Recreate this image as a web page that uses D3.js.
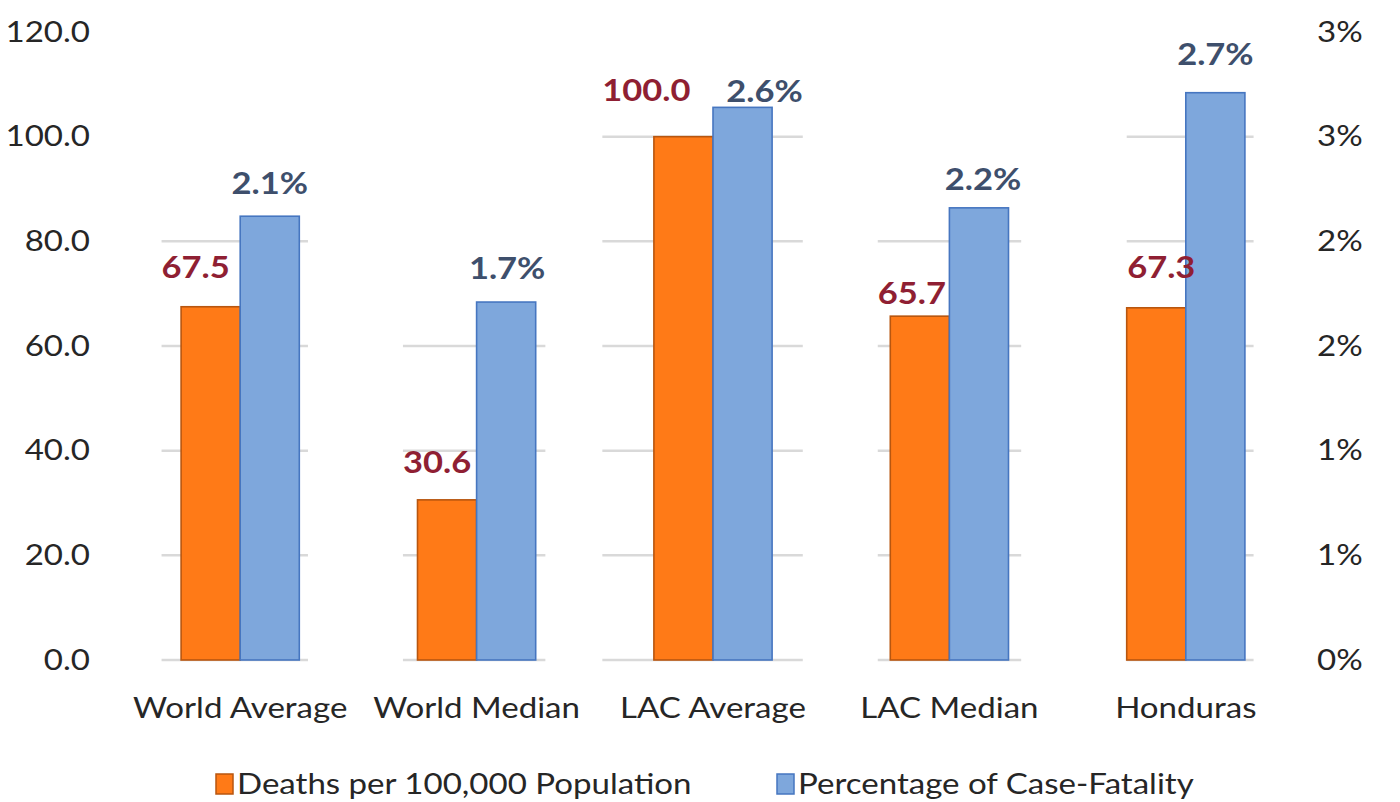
<!DOCTYPE html>
<html>
<head>
<meta charset="utf-8">
<script src="https://cdn.jsdelivr.net/npm/d3@7"></script>
<style>
  html, body { margin: 0; padding: 0; background: #ffffff; }
  svg { display: block; }
</style>
</head>
<body>
<svg id="chart" width="1400" height="802"></svg>
<script>
// ---- data ----
const categories = ["World Average", "World Median", "LAC Average", "LAC Median", "Honduras"];
const seriesNames = ["Deaths per 100,000 Population", "Percentage of Case-Fatality"];
const deathsPer100k = [67.5, 30.6, 100.0, 65.7, 67.3];
const caseFatalityPct = [2.12, 1.71, 2.64, 2.16, 2.71];
const leftTicks = [0, 20, 40, 60, 80, 100, 120];
const leftTickLabels = ["0.0", "20.0", "40.0", "60.0", "80.0", "100.0", "120.0"];
const rightTicks = [0, 0.5, 1.0, 1.5, 2.0, 2.5, 3.0];
const rightTickLabels = ["0%", "1%", "1%", "2%", "2%", "3%", "3%"];

// ---- layout ----
const plot = { left: 122, right: 1304, top: 32, bottom: 660 };
const FONT = "Lato, 'Open Sans', sans-serif";
const STRETCH = "scale(1.14,1)";       // slightly widened lettering
const STRETCH_BOLD = "scale(1.15,1)";
const colors = {
  orange: "#ff7a17", orangeStroke: "#b8560f",
  blue: "#7ea7dc", blueStroke: "#4676c0",
  orangeText: "#8f1f33", blueText: "#3e4f6c",
  grid: "#d9d9d9", text: "#262626"
};
// hand-placed data-label offsets [dx, dy] relative to the default spot above each bar
const deathLabelNudge = [[-15, -5], [-10, -3], [-37, -12], [-8, 11], [5, -6]];
const pctLabelNudge = [[0, 1], [1, 0], [22, 18], [4, 6], [0, -4]];

const svg = d3.select("#chart");

const x0 = d3.scaleBand().domain(categories)
  .range([plot.left, plot.right]).paddingInner(0.5).paddingOuter(0.25);
const x1 = d3.scaleBand().domain([0, 1]).range([0, x0.bandwidth()]);
const yLeft = d3.scaleLinear().domain([0, 120]).range([plot.bottom, plot.top]);
const yRight = d3.scaleLinear().domain([0, 3]).range([plot.bottom, plot.top]);

const gridLayer = svg.append("g").attr("class", "grid");
const barLayer = svg.append("g").attr("class", "bars");
const labelLayer = svg.append("g").attr("class", "labels");

// left axis
const leftAxis = d3.axisLeft(yLeft).tickValues(leftTicks)
  .tickFormat((d, i) => leftTickLabels[i]).tickSize(0).tickPadding(0);
const gL = svg.append("g").attr("transform", "translate(90,0)").call(leftAxis);
gL.select(".domain").remove();
gL.selectAll("text").attr("font-family", FONT).attr("font-size", 29)
  .attr("fill", colors.text).attr("transform", STRETCH);

// right axis
const rightAxis = d3.axisRight(yRight).tickValues(rightTicks)
  .tickFormat((d, i) => rightTickLabels[i]).tickSize(0).tickPadding(0);
const gR = svg.append("g").attr("transform", "translate(1317,0)").call(rightAxis);
gR.select(".domain").remove();
gR.selectAll("text").attr("font-family", FONT).attr("font-size", 29)
  .attr("fill", colors.text).attr("transform", STRETCH);

// category axis
const bottomAxis = d3.axisBottom(x0).tickSize(0).tickPadding(0);
const gB = svg.append("g").attr("transform", `translate(0,${plot.bottom + 35})`).call(bottomAxis);
gB.select(".domain").remove();
gB.selectAll("text").attr("font-family", FONT).attr("font-size", 29)
  .attr("fill", colors.text).attr("dy", "0.8em").attr("transform", STRETCH);

// bars
const rows = categories.map((c, i) => ({
  cat: c, i,
  vals: [
    { s: 0, v: deathsPer100k[i], y: yLeft(deathsPer100k[i]) },
    { s: 1, v: caseFatalityPct[i], y: yRight(caseFatalityPct[i]) }
  ]
}));

const groups = barLayer.selectAll("g.group").data(rows).join("g")
  .attr("class", "group")
  .attr("transform", d => `translate(${x0(d.cat)},0)`);

groups.selectAll("rect").data(d => d.vals).join("rect")
  .attr("x", d => x1(d.s))
  .attr("width", x1.bandwidth())
  .attr("y", d => d.y)
  .attr("height", d => plot.bottom - d.y)
  .attr("fill", d => d.s === 0 ? colors.orange : colors.blue)
  .attr("stroke", d => d.s === 0 ? colors.orangeStroke : colors.blueStroke)
  .attr("stroke-width", 1.6);

// data labels
const fmtDeaths = d3.format(".1f");
const fmtPct = v => d3.format(".1f")(v) + "%";
rows.forEach(r => {
  const bx = x0(r.cat);
  const labels = [];
  r.vals.forEach(d => {
    const nudge = d.s === 0 ? deathLabelNudge[r.i] : pctLabelNudge[r.i];
    const lx = bx + x1(d.s) + x1.bandwidth() / 2 + nudge[0];
    const ly = d.y - 34 + nudge[1];
    const t = labelLayer.append("text")
      .attr("transform", `translate(${lx},${ly}) ${STRETCH_BOLD}`)
      .attr("dy", "0.35em")
      .attr("text-anchor", "middle")
      .attr("font-family", FONT)
      .attr("font-weight", 700)
      .attr("font-size", 30)
      .attr("fill", d.s === 0 ? colors.orangeText : colors.blueText)
      .text(d.s === 0 ? fmtDeaths(d.v) : fmtPct(d.v));
    const b = t.node().getBBox();
    labels.push([lx + b.x * 1.15, lx + (b.x + b.width) * 1.15]);
  });
  // gridline segments behind each group, spanning its bars and labels,
  // shown up to the top of the taller bar
  const xs = [bx, bx + x0.bandwidth()];
  labels.forEach(b => { xs.push(b[0], b[1]); });
  const gx0 = d3.min(xs), gx1 = d3.max(xs);
  const topY = d3.min(r.vals, d => d.y);
  gridLayer.selectAll(null)
    .data(leftTicks.filter(t => yLeft(t) >= topY))
    .join("line")
    .attr("x1", gx0).attr("x2", gx1)
    .attr("y1", t => yLeft(t)).attr("y2", t => yLeft(t))
    .attr("stroke", colors.grid).attr("stroke-width", 2.5);
});

// legend
const legend = svg.append("g").attr("transform", "translate(0,784)");
const legendItems = [
  { name: seriesNames[0], x: 216, fill: colors.orange, stroke: colors.orangeStroke },
  { name: seriesNames[1], x: 777, fill: colors.blue, stroke: colors.blueStroke }
];
legendItems.forEach(it => {
  legend.append("rect").attr("x", it.x).attr("y", -10).attr("width", 17).attr("height", 20)
    .attr("fill", it.fill).attr("stroke", it.stroke).attr("stroke-width", 1.5);
  legend.append("text")
    .attr("transform", `translate(${it.x + 21},0) ${STRETCH}`)
    .attr("dy", "0.35em")
    .attr("font-family", FONT).attr("font-size", 29).attr("fill", colors.text)
    .text(it.name);
});
</script>
</body>
</html>
